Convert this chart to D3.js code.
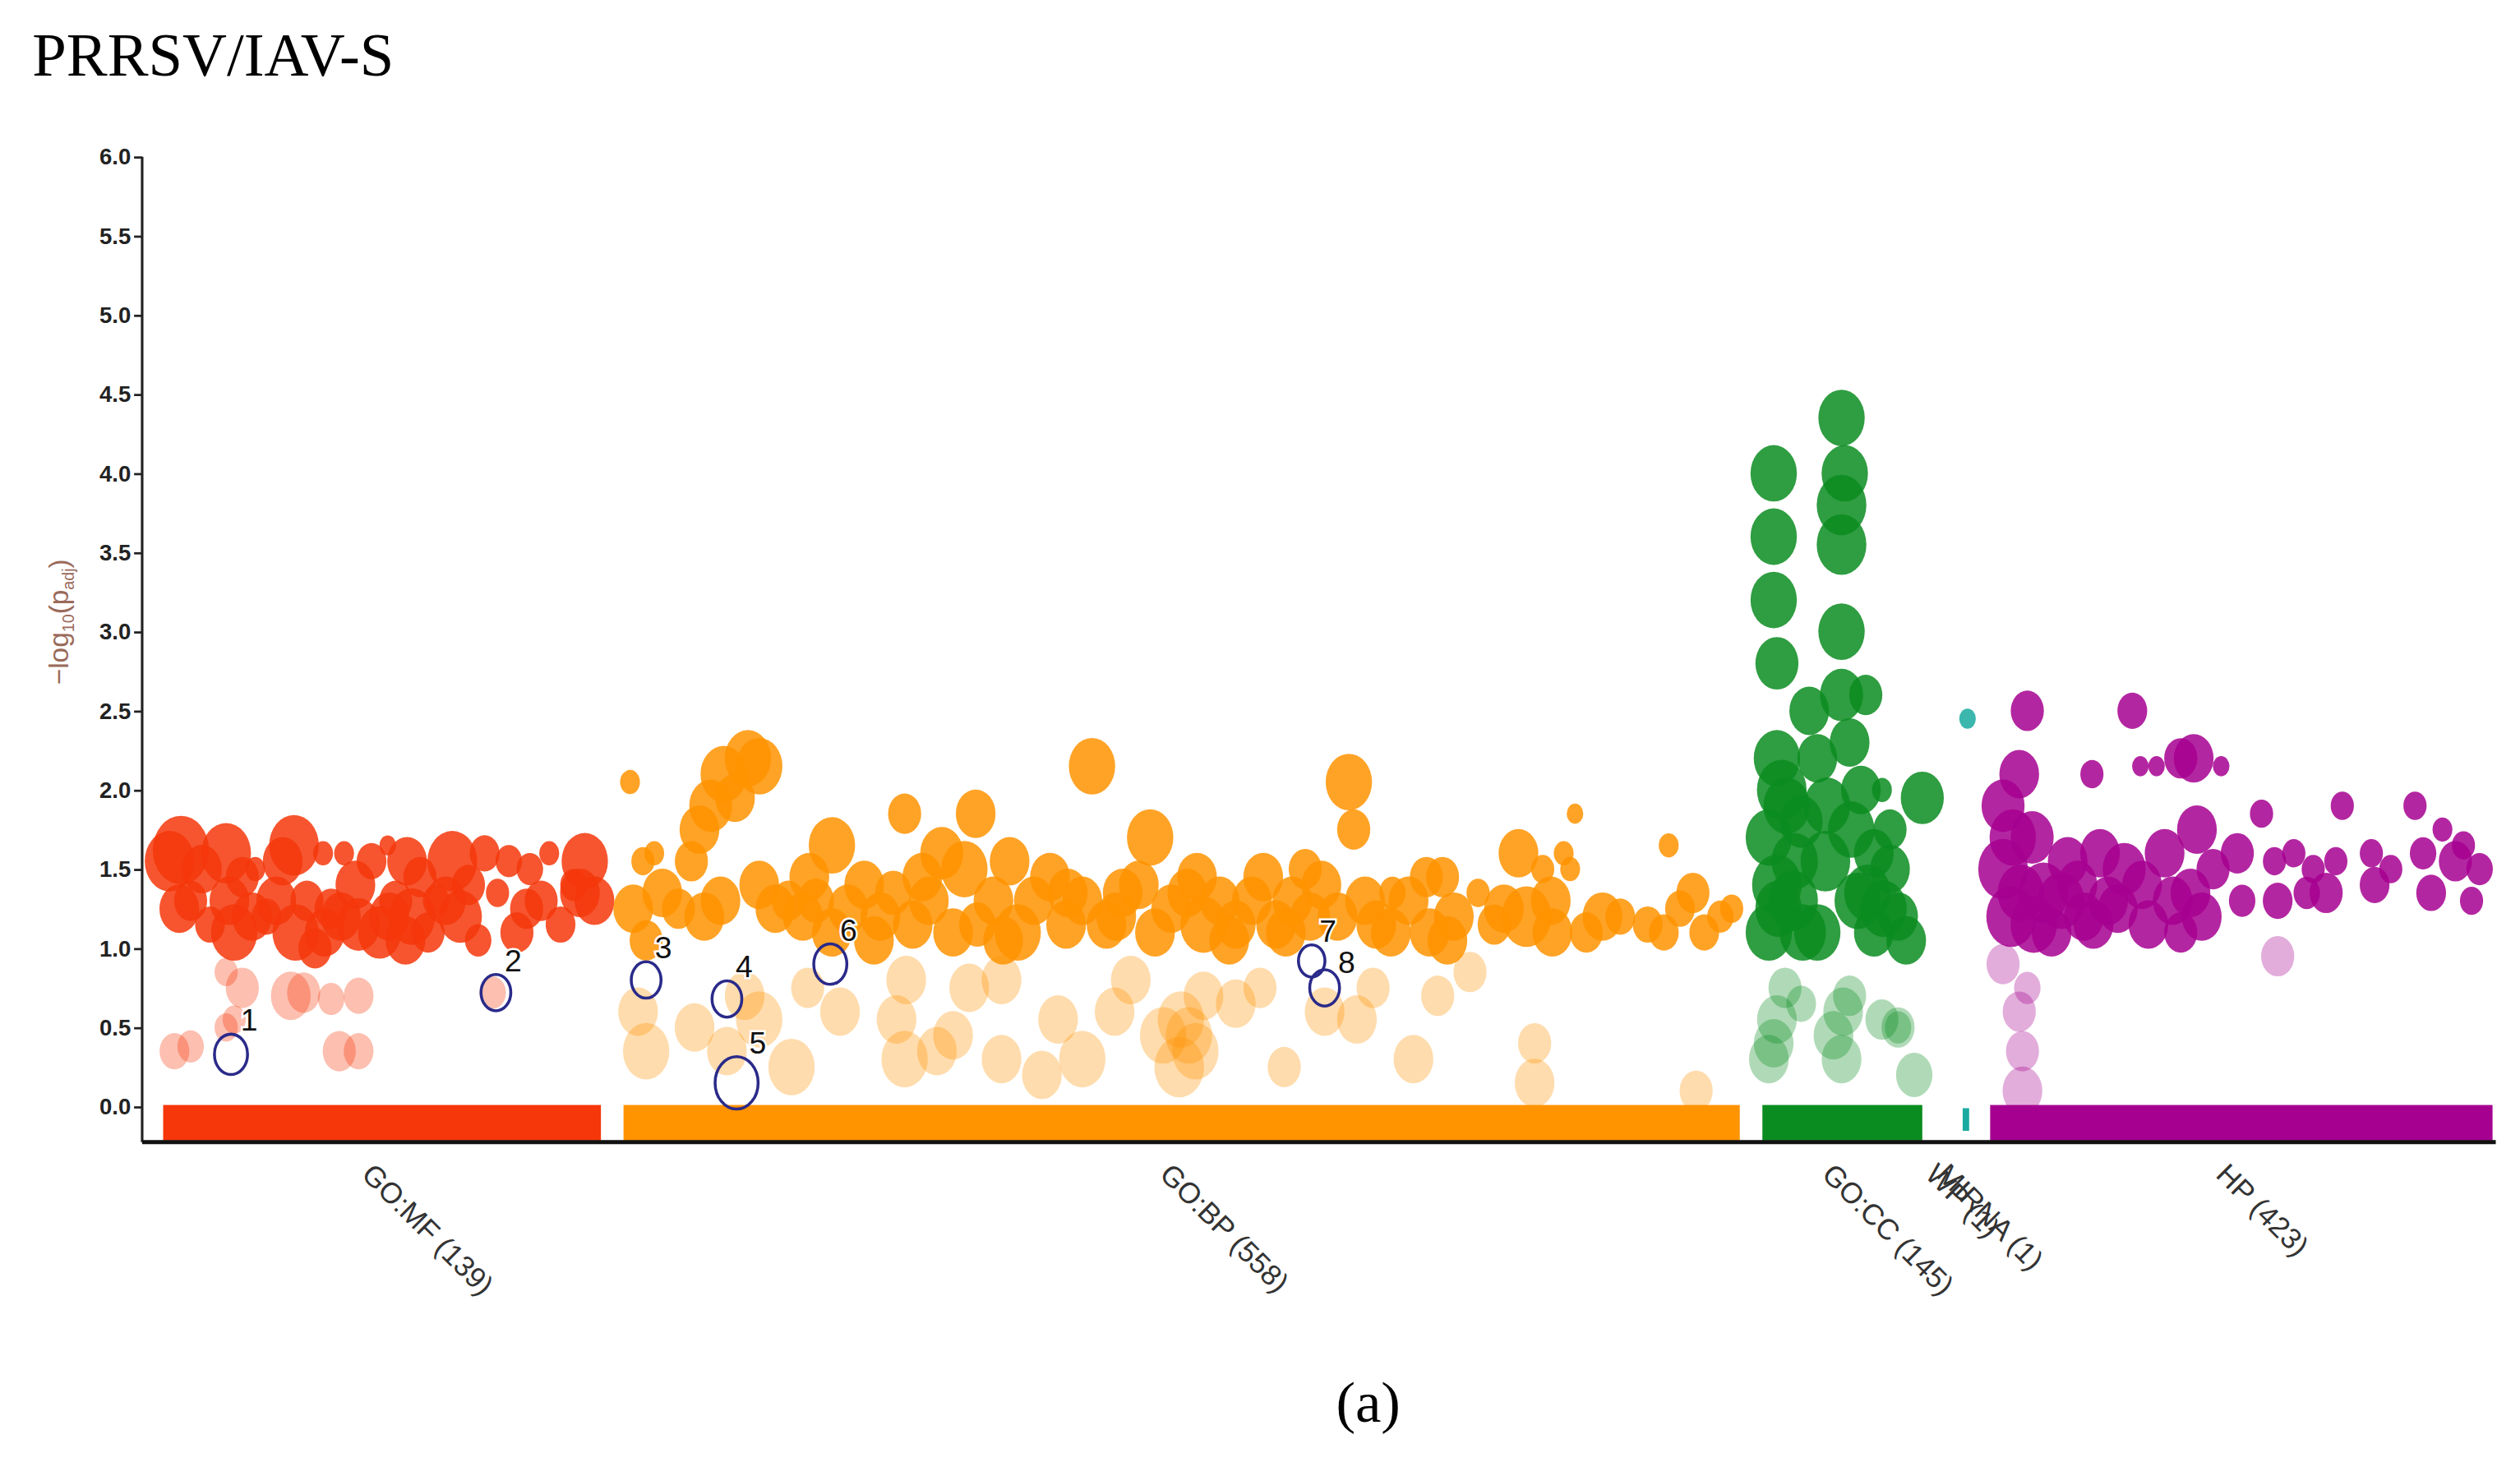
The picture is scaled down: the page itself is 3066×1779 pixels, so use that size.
<!DOCTYPE html>
<html><head><meta charset="utf-8">
<script src="https://cdn.jsdelivr.net/npm/d3@7"></script>
<style>html,body{margin:0;padding:0;background:#fff;}svg{display:block;}</style>
</head><body>
<script>
// ---- data: [term position, -log10(padj), term size] ----
const sources = ["GO:MF (139)","GO:BP (558)","GO:CC (145)","WP (1)","HP (423)"];
const sourceColors = ["#f5370a","#ff9300","#0a8c20","#19aaa0","#a60090"];
const sourceStart = [0, 285, 990, 1114, 1131];
const sourceEnd   = [271, 976, 1089, 1118, 1442];
const yTicks = [0,0.5,1,1.5,2,2.5,3,3.5,4,4.5,5,5.5,6];

const mfPoints = [[4,1.55,15],[11,1.62,17],[17,1.3,10],[24,1.5,12],[29,1.15,9],[39,1.6,15],[41,1.3,12],[44,1.1,14],[49,1.45,10],[57,1.5,6],[64,1.2,9],[74,1.55,12],[81,1.65,15],[82,1.1,14],[89,1.3,10],[94,1.0,10],[99,1.6,6],[104,1.25,10],[112,1.6,6],[119,1.4,12],[121,1.15,13],[129,1.55,9],[134,1.1,13],[139,1.65,5],[144,1.3,10],[151,1.55,12],[154,1.2,14],[159,1.45,10],[164,1.1,10],[169,1.3,8],[179,1.55,15],[184,1.2,13],[189,1.4,10],[195,1.05,8],[199,1.6,9],[207,1.35,7],[214,1.55,8],[219,1.1,10],[227,1.5,8],[234,1.3,10],[239,1.6,6],[246,1.15,9],[254,1.4,8],[261,1.55,14],[267,1.3,12],
 [10,1.25,12],[55,1.2,12],[70,1.3,12],[100,1.1,12],[110,1.2,12],[140,1.2,12],[150,1.05,12],[175,1.3,12],[225,1.25,10],[258,1.35,12],
 [7,0.35,9],[17,0.38,8],[39,0.5,7],[44,0.55,7],[49,0.75,10],[79,0.7,12],[87,0.72,10],[104,0.68,8],[109,0.35,10],[121,0.35,9],[121,0.7,9],[39,0.85,7],[204,0.72,8]];
const bpPoints = [[289,2.05,6],[291,1.25,12],[297,1.55,7],[304,1.6,6],[299,1.05,10],[309,1.35,12],[319,1.25,10],[327,1.55,10],[332,1.75,12],[339,1.9,13],[347,2.1,14],[354,1.95,12],[362,2.2,14],[369,2.15,14],[369,1.4,12],[379,1.25,12],[387,1.3,10],[396,1.2,12],[404,1.3,11],[414,1.65,14],[414,1.1,12],[424,1.25,12],[434,1.4,12],[444,1.2,12],[452,1.35,11],[459,1.85,10],[464,1.15,12],[474,1.3,12],[482,1.6,13],[489,1.1,12],[496,1.5,14],[503,1.85,12],[504,1.15,11],[514,1.3,12],[524,1.55,12],[529,1.1,14],[539,1.3,12],[549,1.45,12],[559,1.15,12],[575,2.15,14],[569,1.3,12],[584,1.15,12],[594,1.35,12],[604,1.4,12],[611,1.7,14],[614,1.1,12],[624,1.25,12],[634,1.35,12],[644,1.15,14],[654,1.3,12],[664,1.15,12],[674,1.3,12],[681,1.45,12],[689,1.15,12],[699,1.3,12],[707,1.5,10],[717,1.4,12],[727,1.2,12],[734,2.05,14],[737,1.75,10],[744,1.3,12],[751,1.15,12],[761,1.35,8],[771,1.3,12],[782,1.45,10],[784,1.1,12],[792,1.45,10],[799,1.2,12],[814,1.35,7],[824,1.15,10],[839,1.6,12],[844,1.2,15],[854,1.5,7],[859,1.3,12],[867,1.6,6],[871,1.5,6],[874,1.85,5],[881,1.1,10],[891,1.2,12],[902,1.2,9],[919,1.15,9],[929,1.1,9],[932,1.65,6],[939,1.25,9],[947,1.35,10],[954,1.1,9],[964,1.2,8],[971,1.25,7],
 [335,1.2,12],[345,1.3,12],[400,1.45,12],[440,1.05,12],[470,1.45,12],[520,1.05,12],[560,1.35,12],[590,1.2,12],[640,1.45,12],[660,1.05,12],[695,1.1,12],[710,1.2,12],[760,1.1,12],[795,1.05,12],[830,1.25,12],[860,1.1,12],
 [294,0.6,12],[299,0.35,14],[329,0.5,12],[349,0.35,12],[369,0.55,14],[389,0.25,14],[399,0.75,10],[419,0.6,12],[454,0.55,12],[459,0.3,14],[479,0.35,12],[489,0.45,12],[499,0.75,12],[519,0.8,12],[544,0.2,12],[554,0.55,12],[569,0.3,14],[589,0.6,12],[599,0.8,12],[619,0.45,14],[629,0.25,15],[639,0.35,14],[644,0.7,12],[664,0.65,12],[679,0.75,10],[694,0.25,10],[719,0.6,12],[739,0.55,12],[749,0.75,10],[774,0.3,12],[789,0.7,10],[809,0.85,10],[849,0.4,10],[849,0.15,12],[949,0.1,10],[519,0.3,12],[630,0.55,14],[635,0.45,14],[360,0.7,12],[460,0.8,12]];
const ccPoints = [[997,4.0,14],[997,3.6,14],[997,3.2,14],[999,2.8,13],[999,2.2,14],[1002,2.0,15],[994,1.7,14],[999,1.4,15],[994,1.1,14],[1009,1.3,15],[1014,1.8,13],[1019,2.5,12],[1024,2.2,12],[1029,1.55,15],[1024,1.1,14],[1039,4.35,14],[1041,4.0,14],[1039,3.8,15],[1039,3.55,15],[1039,3.0,14],[1039,2.6,13],[1044,2.3,12],[1054,2.6,10],[1051,2.0,12],[1049,1.3,14],[1059,1.6,12],[1059,1.1,12],[1064,2.0,6],[1069,1.5,12],[1074,1.2,12],[1079,1.05,12],[1089,1.95,13],[1069,1.75,10],
 [1005,1.9,14],[1010,1.55,14],[1015,1.1,14],[1030,1.9,14],[1045,1.75,14],[1055,1.35,14],[1065,1.25,14],[1000,1.25,14],
 [994,0.3,12],[999,0.55,12],[1004,0.75,10],[1014,0.65,9],[1034,0.45,12],[1039,0.3,12],[1044,0.7,10],[1064,0.55,10],[1074,0.5,10],[1074,0.5,8],[1084,0.2,11],[997,0.4,12],[1040,0.6,12]];
const wpPoints = [[1117,2.45,5]];
const hpPoints = [[1139,1.9,13],[1139,1.5,15],[1144,1.2,15],[1149,2.1,12],[1154,2.5,10],[1157,1.7,13],[1164,1.35,15],[1169,1.1,12],[1179,1.55,12],[1189,1.2,12],[1194,2.1,7],[1199,1.6,12],[1204,1.3,12],[1214,1.5,13],[1219,2.5,9],[1224,2.15,5],[1229,1.15,12],[1234,2.15,5],[1239,1.6,12],[1244,1.3,12],[1249,2.2,10],[1257,2.2,12],[1259,1.75,12],[1249,1.1,10],[1269,1.5,10],[1274,2.15,5],[1284,1.6,10],[1287,1.3,8],[1299,1.85,7],[1307,1.55,7],[1309,1.3,9],[1319,1.6,7],[1327,1.35,8],[1331,1.5,7],[1339,1.35,10],[1345,1.55,7],[1349,1.9,7],[1367,1.6,7],[1369,1.4,9],[1379,1.5,7],[1394,1.9,7],[1399,1.6,8],[1404,1.35,9],[1411,1.75,6],[1419,1.55,10],[1424,1.65,7],[1429,1.3,7],[1434,1.5,8],
 [1145,1.7,14],[1150,1.35,14],[1158,1.15,14],[1175,1.3,14],[1185,1.4,12],[1195,1.15,12],[1210,1.25,12],[1225,1.4,12],[1255,1.35,12],[1262,1.2,12],
 [1139,0.9,10],[1149,0.6,10],[1151,0.35,10],[1151,0.1,12],[1154,0.75,8],[1309,0.95,10]];
const pointSets = [mfPoints, bpPoints, ccPoints, wpPoints, hpPoints];

// highlighted terms: [id, term position, -log10(padj), term size]
const highlights = [[1,42,0.33,10],[2,206,0.72,9],[3,299,0.8,9],[4,349,0.68,9],[5,355,0.15,13],[6,413,0.9,10],[7,711,0.92,8],[8,719,0.75,9]];

// ---- drawing ----
const W = 1560, H = 905;
const svg = d3.select("body").append("svg")
  .attr("width", 3066).attr("height", 1779)
  .attr("viewBox", `0 0 ${W} ${H}`).attr("preserveAspectRatio","none");

const x = d3.scaleLinear().domain([0, 1442]).range([101, 1543]);
const y = d3.scaleLinear().domain([0, 6]).range([685, 97]);
const r = d3.scaleLinear().domain([0, 10]).range([0, 12.5]);
const rH = d3.scaleLinear().domain([0, 10]).range([0, 10]);
const squash = 0.82;

svg.append("text").attr("x", 20).attr("y", 47)
  .style("font-family","'Liberation Serif','DejaVu Serif',serif").style("font-size","38px")
  .text("PRRSV/IAV-S");

const yAxis = svg.append("g").attr("transform","translate(88,0)")
  .call(d3.axisLeft(y).tickValues(yTicks).tickFormat(d3.format(".1f")).tickSize(5).tickSizeOuter(0));
yAxis.select(".domain").attr("stroke","#222").attr("stroke-width",1.6)
  .attr("d", `M0,${y(6)}V707`);
yAxis.selectAll(".tick line").attr("stroke","#222").attr("stroke-width",1.4);
yAxis.selectAll(".tick text").attr("x",-7)
  .style("font-family","'Liberation Sans Narrow','Liberation Sans',Arial,sans-serif")
  .style("font-size","14px").style("font-weight","bold").attr("fill","#222");

const yl = svg.append("text").attr("transform","translate(42,385) rotate(-90)")
  .attr("text-anchor","middle").attr("fill","#9a6a5a")
  .style("font-family","'Liberation Sans',Arial,sans-serif").style("font-size","17px");
yl.append("tspan").text("\u2212log");
yl.append("tspan").attr("dy",4).style("font-size","10px").text("10");
yl.append("tspan").attr("dy",-4).text("(p");
yl.append("tspan").attr("dy",4).style("font-size","10px").text("adj");
yl.append("tspan").attr("dy",-4).text(")");

// points
pointSets.forEach((pts, i) => {
  const g = svg.append("g");
  const sorted = pts.slice().sort((a,b) => (a[1] >= 1.0) - (b[1] >= 1.0));
  g.selectAll("ellipse").data(sorted).enter().append("ellipse")
    .attr("cx", d => x(d[0])).attr("cy", d => y(d[1]))
    .attr("rx", d => r(d[2]) * squash).attr("ry", d => r(d[2]))
    .attr("fill", sourceColors[i])
    .attr("fill-opacity", d => d[1] >= 1.0 ? 0.85 : 0.32);
});

// source bars
svg.append("g").selectAll("rect").data(sources).enter().append("rect")
  .attr("x", (d,i) => x(sourceStart[i]))
  .attr("width", (d,i) => Math.max(1.5, x(sourceEnd[i]) - x(sourceStart[i])))
  .attr("y", (d,i) => i === 3 ? 686 : 684)
  .attr("height", (d,i) => i === 3 ? 14 : 22)
  .attr("fill", (d,i) => sourceColors[i]);

svg.append("line").attr("x1",88).attr("x2",1545).attr("y1",707).attr("y2",707)
  .attr("stroke","#111").attr("stroke-width",2.5);

// highlights
const hg = svg.append("g");
hg.selectAll("ellipse").data(highlights).enter().append("ellipse")
  .attr("cx", d => x(d[1])).attr("cy", d => y(d[2]))
  .attr("rx", d => rH(d[3]) * squash * 1.25).attr("ry", d => rH(d[3]) * 1.25)
  .attr("fill","none").attr("stroke","#2a2a8a").attr("stroke-width",1.8);
hg.selectAll("text").data(highlights).enter().append("text")
  .attr("x", d => x(d[1]) + rH(d[3]) * 0.6 + (d[0] === 8 ? 3 : 0))
  .attr("y", d => y(d[2]) - rH(d[3]) * 1.25 - 2 + (d[0] === 8 ? 4 : 0))
  .attr("stroke","#fff").attr("stroke-width",2.5).attr("paint-order","stroke")
  .style("font-family","'Liberation Sans',Arial,sans-serif").style("font-size","19px")
  .attr("fill","#111").text(d => d[0]);

// source labels
const labelStart = [122, 616, 1026, 1090, 1270];
const labels = sources.concat(["MIRNA (1)"]);
const labelPos = labelStart.concat([1097]);
svg.append("g").selectAll("text").data(labels).enter().append("text")
  .attr("transform", (d,i) => `translate(${x(labelPos[i])},728) rotate(45)`)
  .attr("fill","#333")
  .style("font-family","'Liberation Sans',Arial,sans-serif").style("font-size","18px")
  .text(d => d);

svg.append("text").attr("x",847).attr("y",880).attr("text-anchor","middle")
  .style("font-family","'Liberation Serif','DejaVu Serif',serif").style("font-size","36px")
  .text("(a)");
</script>
</body></html>
